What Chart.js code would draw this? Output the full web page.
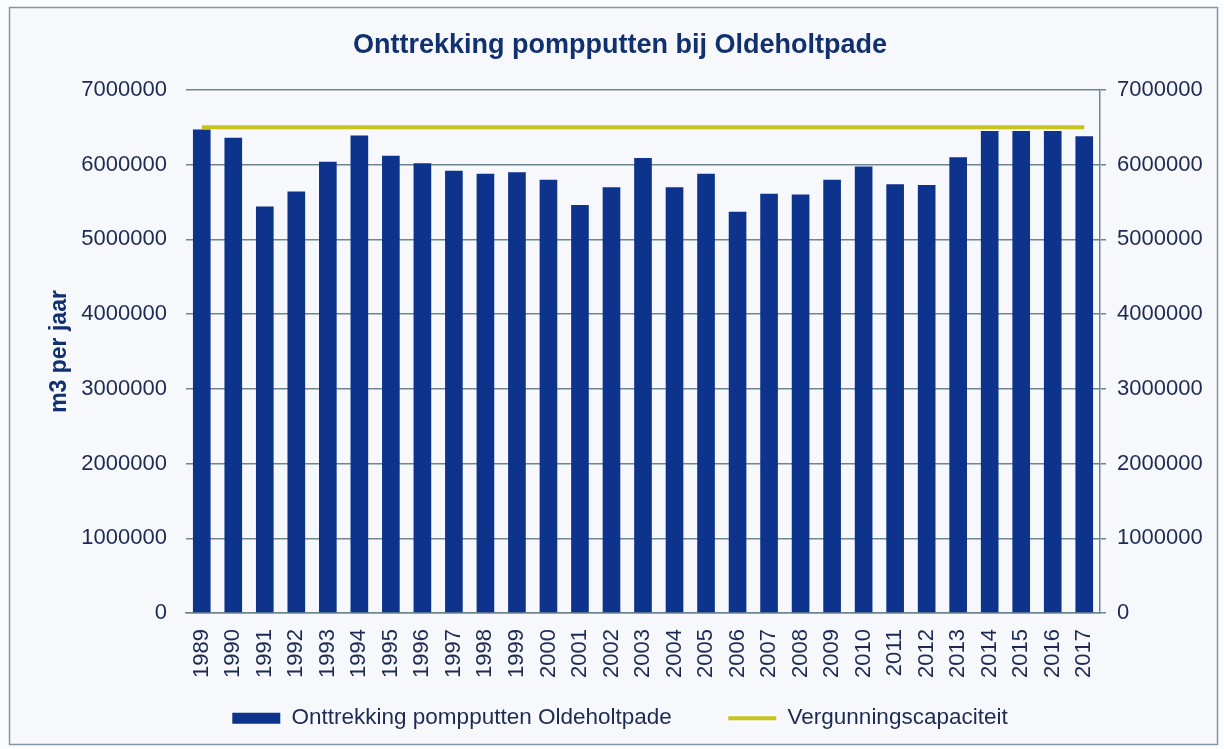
<!DOCTYPE html>
<html lang="nl">
<head>
  <meta charset="UTF-8" />
  <title>Onttrekking pompputten bij Oldeholtpade</title>
  <script src="https://cdn.jsdelivr.net/npm/chart.js"></script>
  <style>
    html, body { margin: 0; padding: 0; background: #ffffff; }
    #wrap { width: 1224px; height: 749px; }
  </style>
</head>
<body>
  <div id="wrap"><canvas id="chart" width="1224" height="749"></canvas></div>

  <script>
    // jaren en waarden
    const years = ['1989','1990','1991','1992','1993','1994','1995','1996','1997','1998',
                   '1999','2000','2001','2002','2003','2004','2005','2006','2007','2008',
                   '2009','2010','2011','2012','2013','2014','2015','2016','2017'];
    const onttrekking = [6470000, 6360000, 5440000, 5640000, 6040000, 6390000, 6120000, 6020000, 5920000, 5880000,
                         5900000, 5800000, 5460000, 5700000, 6090000, 5700000, 5880000, 5370000, 5610000, 5600000,
                         5800000, 5975000, 5740000, 5730000, 6100000, 6450000, 6450000, 6450000, 6380000];
    const vergunning = [6500000, 6500000, 6500000, 6500000, 6500000, 6500000, 6500000, 6500000, 6500000, 6500000,
                        6500000, 6500000, 6500000, 6500000, 6500000, 6500000, 6500000, 6500000, 6500000, 6500000,
                        6500000, 6500000, 6500000, 6500000, 6500000, 6500000, 6500000, 6500000, 6500000];
    const yMax = 7000000;
    const yStep = 1000000;

    const navy = '#0e338c';
    const yellow = '#c9c41c';
    const gridCol = '#6f8590';
    const textCol = '#1e2a52';
    const font = 'Liberation Sans, Arial, sans-serif';

    // achtergrond en kader
    const frame = {
      id: 'frame',
      beforeDraw(chart) {
        const ctx = chart.ctx;
        ctx.save();
        ctx.fillStyle = '#fbfcfe';
        ctx.fillRect(0, 0, chart.width, chart.height);
        ctx.fillStyle = '#f6f8fb';
        ctx.fillRect(9, 7, 1209, 738);
        ctx.strokeStyle = '#8497a8';
        ctx.lineWidth = 1.5;
        ctx.strokeRect(9.5, 7.5, 1208, 737);
        ctx.restore();
      }
    };

    new Chart(document.getElementById('chart'), {
      data: {
        labels: years,
        datasets: [
          {
            type: 'line',
            label: 'Vergunningscapaciteit',
            data: vergunning,
            borderColor: yellow,
            backgroundColor: yellow,
            borderWidth: 4,
            pointRadius: 0,
            order: 0
          },
          {
            type: 'bar',
            label: 'Onttrekking pompputten Oldeholtpade',
            data: onttrekking,
            backgroundColor: navy,
            barPercentage: 0.56,
            categoryPercentage: 1,
            order: 1
          }
        ]
      },
      options: {
        responsive: false,
        animation: false,
        layout: { padding: { left: 20, right: 4, top: 0, bottom: 9.5 } },
        plugins: {
          title: {
            display: true,
            text: 'Onttrekking pompputten bij Oldeholtpade',
            color: '#11306f',
            font: { family: font, size: 27, weight: 'bold' },
            padding: { top: 29, bottom: 28.6 }
          },
          legend: {
            position: 'bottom',
            reverse: true,
            labels: {
              color: textCol,
              font: { family: font, size: 22.5 },
              usePointStyle: true,
              pointStyleWidth: 48,
              boxHeight: 11,
              padding: 19,
              generateLabels(chart) {
                const items = Chart.defaults.plugins.legend.labels.generateLabels(chart);
                items.forEach(it => {
                  const ds = chart.data.datasets[it.datasetIndex];
                  const isLine = ds.type === 'line';
                  it.pointStyle = isLine ? 'line' : 'rect';
                  it.strokeStyle = isLine ? yellow : navy;
                  it.lineWidth = isLine ? 4 : 0;
                  // extra ruimte tussen de twee legenda-items
                  if (!isLine) it.text = it.text + '      ';
                });
                return items;
              }
            }
          },
          tooltip: { enabled: false }
        },
        scales: {
          x: {
            grid: { display: false },
            border: { display: true, color: gridCol, width: 1.5 },
            ticks: {
              color: textCol,
              font: { family: font, size: 22 },
              minRotation: 90,
              maxRotation: 90,
              autoSkip: false,
              padding: 8
            },
            afterFit(scale) { scale.height = 75; }
          },
          y: {
            position: 'left',
            min: 0,
            max: yMax,
            ticks: {
              stepSize: yStep,
              color: textCol,
              font: { family: font, size: 22 },
              padding: 19,
              callback: v => String(v)
            },
            grid: { color: gridCol, lineWidth: 1.5, drawTicks: false },
            border: { display: false },
            title: {
              display: true,
              text: 'm3 per jaar',
              color: '#11306f',
              font: { family: font, size: 23, weight: 'bold' },
              padding: { top: 26, bottom: 0 }
            },
            afterFit(scale) { scale.width = 166; }
          },
          y2: {
            position: 'right',
            min: 0,
            max: yMax,
            ticks: {
              stepSize: yStep,
              color: textCol,
              font: { family: font, size: 22 },
              padding: 11,
              callback: v => String(v)
            },
            grid: { drawOnChartArea: false, drawTicks: true, tickLength: 6, color: gridCol, lineWidth: 1.5 },
            border: { display: true, color: gridCol, width: 1.5 },
            afterFit(scale) { scale.width = 120; }
          }
        }
      },
      plugins: [frame]
    });
  </script>
</body>
</html>
